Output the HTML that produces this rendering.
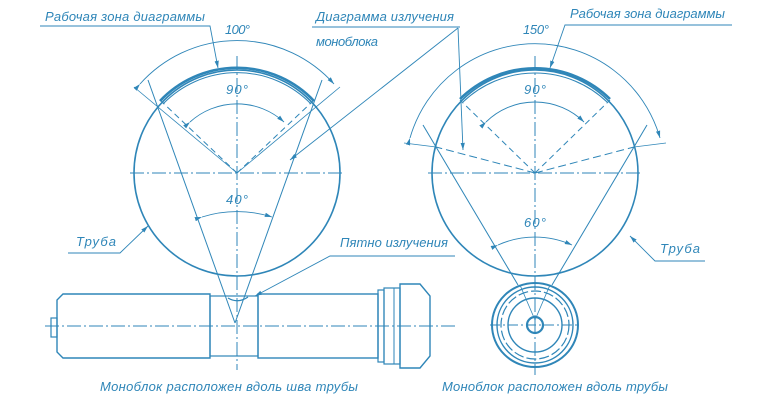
<!DOCTYPE html>
<html><head><meta charset="utf-8"><style>
html,body{margin:0;padding:0;background:#fff;}
svg{display:block;}
text{font-family:"Liberation Sans",sans-serif;font-style:italic;fill:#2f86b8;font-size:13px;}
</style></head><body>
<svg width="772" height="400" viewBox="0 0 772 400" xmlns="http://www.w3.org/2000/svg">
<defs>
<marker id="a" viewBox="0 0 10 6" refX="10" refY="3" markerWidth="8" markerHeight="5" orient="auto"><path d="M0,0 L10,3 L0,6 z" fill="#2f86b8"/></marker>
</defs>
<g stroke="#2f86b8" fill="none" stroke-width="1">
<!-- LEFT circle -->
<circle cx="237" cy="173" r="103" stroke-width="1.6"/>
<path d="M160,101 A106,106 0 0 1 314,101" stroke-width="2.6"/>
<path d="M163,104 A103,103 0 0 1 311,104" stroke-width="1"/>
<line x1="130" y1="173" x2="343" y2="173" stroke-dasharray="14,3,2,3"/>
<line x1="237" y1="56" x2="237" y2="370" stroke-dasharray="14,3,2,3"/>
<line x1="237" y1="173" x2="160" y2="100" stroke-dasharray="6,4"/>
<line x1="237" y1="173" x2="314" y2="100" stroke-dasharray="6,4"/>
<line x1="237" y1="173" x2="134" y2="87" stroke-width="0.8"/>
<line x1="237" y1="173" x2="340" y2="87" stroke-width="0.8" stroke-dasharray="40,0"/>
<path d="M190,122 A70,70 0 0 1 284,122" marker-start="url(#a)" marker-end="url(#a)" stroke-width="0.9"/>
<path d="M140,84 A130,130 0 0 1 334,84" marker-start="url(#a)" marker-end="url(#a)" stroke-width="0.9"/>
<line x1="235" y1="323" x2="148" y2="80"/>
<line x1="235" y1="323" x2="322" y2="80"/>
<path d="M202,217 A115,115 0 0 1 272,217" marker-start="url(#a)" marker-end="url(#a)" stroke-width="0.9"/>
<!-- left tube -->
<path d="M63,294 L210,294 L210,358 L63,358 L57,352 L57,300 Z" stroke-width="1.4"/>
<rect x="51" y="318" width="6" height="19" stroke-width="1.2"/>
<rect x="210" y="296" width="48" height="60" stroke-width="1.2"/>
<rect x="258" y="294" width="120" height="64" stroke-width="1.4"/>
<rect x="378" y="290" width="6" height="72" stroke-width="1.2"/>
<rect x="384" y="288" width="16" height="76" stroke-width="1.2"/>
<line x1="394" y1="288" x2="394" y2="364"/>
<path d="M400,284 L420,284 L430,296 L430,356 L420,368 L400,368 Z" stroke-width="1.4"/>
<path d="M228,298 Q238,304 248,297" stroke-width="1.2"/>
<line x1="45" y1="326" x2="455" y2="326" stroke-dasharray="14,3,2,3"/>
<!-- RIGHT circle -->
<circle cx="535" cy="173" r="103" stroke-width="1.6"/>
<path d="M460,99 A107,107 0 0 1 610,99" stroke-width="2.6"/>
<path d="M463,102 A104,104 0 0 1 607,102" stroke-width="1"/>
<line x1="428" y1="173" x2="642" y2="173" stroke-dasharray="14,3,2,3"/>
<line x1="535" y1="56" x2="535" y2="375" stroke-dasharray="14,3,2,3"/>
<line x1="535" y1="173" x2="460" y2="100" stroke-dasharray="6,4"/>
<line x1="535" y1="173" x2="610" y2="100" stroke-dasharray="6,4"/>
<line x1="535" y1="173" x2="436" y2="147" stroke-dasharray="8,4"/>
<line x1="535" y1="173" x2="634" y2="147" stroke-dasharray="8,4"/>
<line x1="436" y1="147" x2="404" y2="143" stroke-width="0.8"/>
<line x1="634" y1="147" x2="666" y2="143" stroke-width="0.8"/>
<path d="M486,122 A70,70 0 0 1 584,122" marker-start="url(#a)" marker-end="url(#a)" stroke-width="0.9"/>
<path d="M410,138 A130,130 0 0 1 660,138" marker-start="url(#a)" marker-end="url(#a)" stroke-width="0.9"/>
<line x1="518" y1="285" x2="423" y2="125"/>
<line x1="552" y1="285" x2="647" y2="125"/>
<path d="M498,245 A90,90 0 0 1 572,245" marker-start="url(#a)" marker-end="url(#a)" stroke-width="0.9"/>
<!-- end view -->
<ellipse cx="535" cy="325" rx="43" ry="42" stroke-width="2"/>
<ellipse cx="535" cy="325" rx="38" ry="38" stroke-width="1.4"/>
<ellipse cx="535" cy="325" rx="34" ry="34" stroke-width="1.2" stroke-dasharray="10,3"/>
<ellipse cx="535" cy="325" rx="27" ry="27" stroke-width="1.4"/>
<circle cx="535" cy="325" r="8" stroke-width="2.2"/>
<line x1="520" y1="285" x2="535" y2="320" stroke-width="0.8"/>
<line x1="550" y1="285" x2="535" y2="320" stroke-width="0.8"/>
<line x1="490" y1="325" x2="580" y2="325" stroke-dasharray="10,3,2,3"/>
<!-- labels leaders -->
<polyline points="40,26 210,26 218,68" marker-end="url(#a)" stroke-width="0.9"/>
<polyline points="312,27 460,27" stroke-width="0.9"/>
<line x1="458" y1="28" x2="290" y2="160" marker-end="url(#a)" stroke-width="0.9"/>
<line x1="458" y1="28" x2="463" y2="150" marker-end="url(#a)" stroke-width="0.9"/>
<polyline points="732,25 565,25 550,68" marker-end="url(#a)" stroke-width="0.9"/>
<polyline points="68,253 120,253 148,226" marker-end="url(#a)" stroke-width="0.9"/>
<polyline points="705,261 655,261 630,236" marker-end="url(#a)" stroke-width="0.9"/>
<polyline points="455,256 330,256 255,296" marker-end="url(#a)" stroke-width="0.9"/>
</g>
<text x="45" y="21" textLength="160">Рабочая зона диаграммы</text>
<text x="225" y="34" textLength="25">100°</text>
<text x="316" y="21" textLength="138">Диаграмма излучения</text>
<text x="316" y="46" textLength="62">моноблока</text>
<text x="570" y="18" textLength="155">Рабочая зона диаграммы</text>
<text x="523" y="34" textLength="26">150°</text>
<text x="226" y="94" textLength="22">90°</text>
<text x="524" y="94" textLength="22">90°</text>
<text x="226" y="204" textLength="22">40°</text>
<text x="524" y="227" textLength="22">60°</text>
<text x="76" y="246" textLength="40">Труба</text>
<text x="660" y="253" textLength="40">Труба</text>
<text x="340" y="247" textLength="108">Пятно излучения</text>
<text x="100" y="391" textLength="258">Моноблок расположен вдоль шва трубы</text>
<text x="442" y="391" textLength="226">Моноблок расположен вдоль трубы</text>
</svg>
</body></html>
